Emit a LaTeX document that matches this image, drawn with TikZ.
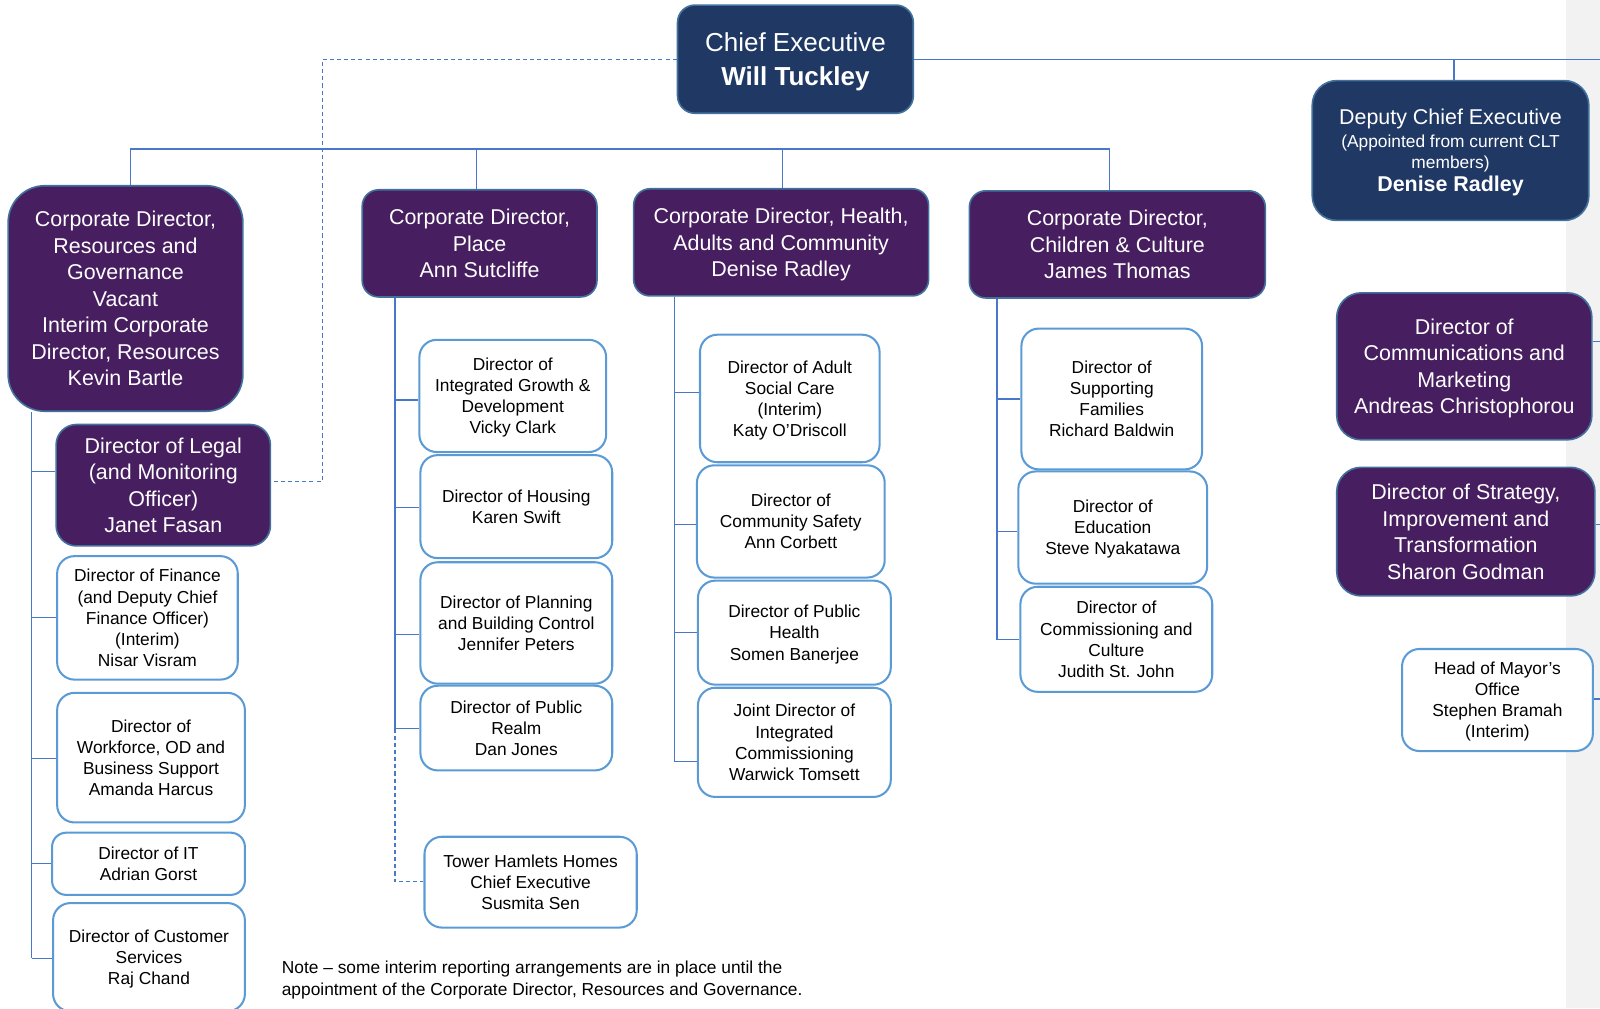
\documentclass[tikz,border=0pt]{standalone}
\usepackage{fontspec}
\setmainfont{Liberation Sans}
\definecolor{navy}{HTML}{203864}
\definecolor{purp}{HTML}{471E5F}
\definecolor{edgecol}{HTML}{41719C}
\definecolor{lightedge}{HTML}{5B9BD5}
\definecolor{conncol}{HTML}{4A78C8}
\definecolor{bandcol}{HTML}{F2F2F2}
\tikzset{
  darkbox/.style={draw=edgecol, line width=1.6pt, text=white, align=center, inner sep=0pt, text depth=0pt, font=\fontsize{21}{26}\selectfont},
  navybox/.style={darkbox, fill=navy},
  purplebox/.style={darkbox, fill=purp, rounded corners=16pt},
  whitebox/.style={draw=lightedge, line width=2pt, fill=white, text=black, align=center, inner sep=0pt, text depth=0pt, font=\fontsize{17}{20.7}\selectfont, rounded corners=17pt},
  conn/.style={draw=conncol, line width=1.2pt},
  dconn/.style={draw=conncol, line width=1.2pt, dash pattern=on 4pt off 3pt},
}
\begin{document}
\begin{tikzpicture}[x=1pt, y=-1pt]
\useasboundingbox (0,0) rectangle (1568,988);
\fill[bandcol] (1535,0) rectangle (1568,988);

% ---------- top level ----------
\node[navybox, rounded corners=17pt, minimum width=231pt, minimum height=106pt, font=\fontsize{25.5}{33}\selectfont] (ce) at (779.5,58) {Chief Executive\\\bfseries Will Tuckley};
\node[navybox, rounded corners=24pt, minimum width=271pt, minimum height=137pt] (dce) at (1421.5,147.5)
  {Deputy Chief Executive\\[-4pt]\fontsize{17}{20}\selectfont (Appointed from current CLT\\[-5pt]\fontsize{17}{20}\selectfont members)\\[-3pt]\fontsize{21}{26}\selectfont\bfseries Denise Radley};

% ---------- corporate directors ----------
\node[purplebox, rounded corners=36pt, minimum width=230pt, minimum height=221pt] (res) at (123,292.5)
  {Corporate Director,\\Resources and\\Governance\\Vacant\\Interim Corporate\\Director, Resources\\Kevin Bartle};
\node[purplebox, minimum width=230pt, minimum height=105pt] (place) at (470,238.5)
  {Corporate Director,\\Place\\Ann Sutcliffe};
\node[purplebox, minimum width=289pt, minimum height=105pt] (health) at (765.5,237.5)
  {Corporate Director, Health,\\Adults and Community\\Denise Radley};
\node[purplebox, minimum width=290pt, minimum height=105pt] (chil) at (1095,239.5)
  {Corporate Director,\\Children \& Culture\\James Thomas};

% ---------- right column ----------
\node[purplebox, rounded corners=24pt, minimum width=250pt, minimum height=144pt] (comms) at (1435,359)
  {Director of\\Communications and\\Marketing\\Andreas Christophorou};
\node[purplebox, rounded corners=24pt, minimum width=253pt, minimum height=126pt] (strat) at (1436.5,521)
  {Director of Strategy,\\Improvement and\\Transformation\\Sharon Godman};
\node[whitebox, minimum width=187pt, minimum height=100pt] (mayor) at (1467.5,686)
  {Head of Mayor’s\\Office\\Stephen Bramah\\(Interim)};

% ---------- resources column ----------
\node[purplebox, rounded corners=20pt, minimum width=210pt, minimum height=119pt] (legal) at (160,475.5)
  {Director of Legal\\(and Monitoring\\Officer)\\Janet Fasan};
\node[whitebox, minimum width=177pt, minimum height=121pt] (fin) at (144.5,605.5)
  {Director of Finance\\(and Deputy Chief\\Finance Officer)\\(Interim)\\Nisar Visram};
\node[whitebox, minimum width=184pt, minimum height=127pt] (work) at (148,742.5)
  {Director of\\Workforce, OD and\\Business Support\\Amanda Harcus};
\node[whitebox, rounded corners=14pt, minimum width=189pt, minimum height=61pt] (it) at (145.5,846.5)
  {Director of IT\\Adrian Gorst};
\node[whitebox, minimum width=188pt, minimum height=106pt] (cust) at (146,938)
  {Director of Customer\\Services\\Raj Chand};

% ---------- place column ----------
\node[whitebox, minimum width=183pt, minimum height=110pt] (igd) at (502.5,388)
  {Director of\\Integrated Growth \&\\Development\\Vicky Clark};
\node[whitebox, minimum width=188pt, minimum height=101pt] (hous) at (506,496.5)
  {Director of Housing\\Karen Swift};
\node[whitebox, minimum width=188pt, minimum height=119pt] (plan) at (506,610.5)
  {Director of Planning\\and Building Control\\Jennifer Peters};
\node[whitebox, minimum width=188pt, minimum height=83pt] (realm) at (506,713.5)
  {Director of Public\\Realm\\Dan Jones};
\node[whitebox, minimum width=208pt, minimum height=89pt] (thh) at (520,864.5)
  {Tower Hamlets Homes\\Chief Executive\\Susmita Sen};

% ---------- health column ----------
\node[whitebox, minimum width=176pt, minimum height=125pt] (asc) at (774,390.5)
  {Director of Adult\\Social Care\\(Interim)\\Katy O’Driscoll};
\node[whitebox, minimum width=184pt, minimum height=110pt] (cs) at (775,511)
  {Director of\\Community Safety\\Ann Corbett};
\node[whitebox, minimum width=189pt, minimum height=102pt] (ph) at (778.5,620)
  {Director of Public\\Health\\Somen Banerjee};
\node[whitebox, minimum width=189pt, minimum height=107pt] (jd) at (778.5,727.5)
  {Joint Director of\\Integrated\\Commissioning\\Warwick Tomsett};

% ---------- children column ----------
\node[whitebox, minimum width=177pt, minimum height=138pt] (sf) at (1089.5,391)
  {Director of\\Supporting\\Families\\Richard Baldwin};
\node[whitebox, minimum width=185pt, minimum height=110pt] (edu) at (1090.5,517)
  {Director of\\Education\\Steve Nyakatawa};
\node[whitebox, minimum width=188pt, minimum height=103pt] (cc) at (1094,626.5)
  {Director of\\Commissioning and\\Culture\\Judith St. John};

% ---------- note ----------
\node[anchor=west, align=left, inner sep=0pt, font=\fontsize{17}{21}\selectfont] (note) at (276,960.5)
  {Note – some interim reporting arrangements are in place until the\\appointment of the Corporate Director, Resources and Governance.};

% ---------- coordinates ----------
\coordinate (topR) at (1568,58);
\coordinate (busL) at (128,146);
\coordinate (busR) at (1087,146);
\coordinate (busP) at (467,146);
\coordinate (busH) at (767,146);
\coordinate (dA) at (316,58);
\coordinate (dB) at (316,472);
\coordinate (spL) at (31,0);
\coordinate (spP) at (387,0);
\coordinate (spH) at (661,0);
\coordinate (spC) at (977,0);
\coordinate (edgeR) at (1568,0);

% ---------- connectors ----------
\draw[conn] (ce.east) -- (topR);
\draw[conn] (dce.north -| 1425,0) -- (1425,58);
\draw[conn] (busL |- res.north) -- (busL) -- (busR) -- (busR |- chil.north);
\draw[conn] (busP) -- (busP |- place.north);
\draw[conn] (busH) -- (busH |- health.north);
\draw[dconn] (ce.west) -- (dA) -- (dB) -- (legal.east |- dB);

% resources spine
\draw[conn] (spL |- res.south) -- (31,939);
\draw[conn] (31,462) -- (legal.west |- 0,462);
\draw[conn] (31,605) -- (fin.west |- 0,605);
\draw[conn] (31,743) -- (work.west |- 0,743);
\draw[conn] (31,846) -- (it.west |- 0,846);
\draw[conn] (31,939) -- (cust.west |- 0,939);

% place spine
\draw[conn] (spP |- place.south) -- (387,714);
\draw[dconn] (387,714) -- (387,864) -- (thh.west |- 0,864);
\draw[conn] (387,392) -- (igd.west |- 0,392);
\draw[conn] (387,497) -- (hous.west |- 0,497);
\draw[conn] (387,622) -- (plan.west |- 0,622);
\draw[conn] (387,714) -- (realm.west |- 0,714);

% health spine
\draw[conn] (spH |- health.south) -- (661,746);
\draw[conn] (661,385) -- (asc.west |- 0,385);
\draw[conn] (661,514) -- (cs.west |- 0,514);
\draw[conn] (661,620) -- (ph.west |- 0,620);
\draw[conn] (661,746) -- (jd.west |- 0,746);

% children spine
\draw[conn] (spC |- chil.south) -- (977,627);
\draw[conn] (977,391) -- (sf.west |- 0,391);
\draw[conn] (977,521) -- (edu.west |- 0,521);
\draw[conn] (977,627) -- (cc.west |- 0,627);

% right stubs
\draw[conn] (comms.east |- 0,335) -- (edgeR |- 0,335);
\draw[conn] (strat.east |- 0,514) -- (edgeR |- 0,514);
\draw[conn] (mayor.east |- 0,685) -- (edgeR |- 0,685);
\end{tikzpicture}
\end{document}
